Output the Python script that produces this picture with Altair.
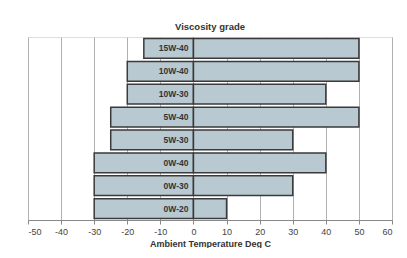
import altair as alt
import pandas as pd

grades = ["15W-40", "10W-40", "10W-30", "5W-40", "5W-30", "0W-40", "0W-30", "0W-20"]
low_temp = [-15, -20, -20, -25, -25, -30, -30, -30]
high_temp = [50, 50, 40, 50, 30, 40, 30, 10]
x_ticks = list(range(-50, 61, 10))

rows = []
for g, lo, hi in zip(grades, low_temp, high_temp):
    rows.append({"grade": g, "start": lo, "end": 0, "part": "low"})
    rows.append({"grade": g, "start": 0, "end": hi, "part": "high"})
df = pd.DataFrame(rows)

xscale = alt.Scale(domain=[-50, 60], nice=False)
yscale = alt.Scale(domain=grades, paddingInner=0.14, paddingOuter=0.07)

xaxis = alt.Axis(values=x_ticks, title="Ambient Temperature Deg C",
                 labelOverlap=False, labelExpr="toString(datum.value)",
                 grid=True, gridColor="#b0b0b0", gridWidth=1,
                 domainColor="#888888", tickColor="#888888", tickSize=4,
                 labelFont="Liberation Sans", labelFontSize=9,
                 labelColor="#444444", titleFont="Liberation Sans",
                 titleFontSize=9, titleFontWeight="bold",
                 titleColor="#333333", titlePadding=3, labelPadding=3)

base = alt.Chart(df)

bars = base.mark_bar(
    color="#b9c9d1", stroke="#3a3a3a", strokeWidth=1.5, cornerRadius=0
).encode(
    x=alt.X("start:Q", scale=xscale, axis=xaxis),
    x2="end:Q",
    y=alt.Y("grade:N", scale=yscale, axis=None),
)

labels = base.transform_filter(alt.datum.part == "low").mark_text(
    align="right", baseline="middle", dx=-5, font="Liberation Sans",
    fontSize=8.5, fontWeight="bold", color="#333333"
).encode(
    x=alt.X("end:Q", scale=xscale, axis=xaxis),
    y=alt.Y("grade:N", scale=yscale, axis=None),
    text="grade:N",
)

chart = alt.layer(bars, labels).properties(
    width=364, height=183,
    autosize=alt.AutoSizeParams(type="none"),
    padding={"left": 20, "top": 29, "right": 7, "bottom": 28},
    title=alt.Title("Viscosity grade", font="Liberation Sans", fontSize=9.5,
                    fontWeight="bold", color="#333333", offset=6),
).configure_view(stroke="#999999", strokeWidth=1).configure(background="white")

chart.save("out.html", embed_options={"renderer": "svg", "actions": False})
